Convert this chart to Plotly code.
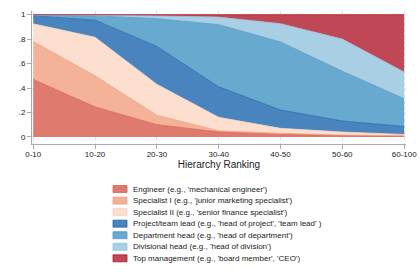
import plotly.graph_objects as go

categories = ["0-10", "10-20", "20-30", "30-40", "40-50", "50-60", "60-100"]
engineer = [0.47, 0.245, 0.10, 0.04, 0.02, 0.01, 0.005]
specialist1 = [0.31, 0.255, 0.077, 0.01, 0.01, 0.005, 0.005]
specialist2 = [0.145, 0.315, 0.253, 0.11, 0.04, 0.025, 0.01]
project_lead = [0.065, 0.14, 0.31, 0.25, 0.15, 0.09, 0.065]
department = [0.006, 0.035, 0.227, 0.508, 0.557, 0.407, 0.228]
divisional = [0.004, 0.008, 0.023, 0.062, 0.149, 0.263, 0.217]
top_mgmt = [0.0, 0.002, 0.01, 0.02, 0.074, 0.20, 0.47]

names = [
    "Engineer (e.g., 'mechanical engineer')",
    "Specialist I (e.g., 'junior marketing specialist')",
    "Specialist II (e.g., 'senior finance specialist')",
    "Project/team lead (e.g., 'head of project', 'team lead' )",
    "Department head (e.g., 'head of department')",
    "Divisional head (e.g., 'head of division')",
    "Top management (e.g., 'board member', 'CEO')",
]
series = [engineer, specialist1, specialist2, project_lead, department, divisional, top_mgmt]
fills = ["rgb(223,123,110)", "rgb(244,178,152)", "rgb(253,223,207)",
         "rgb(74,132,191)", "rgb(104,169,207)", "rgb(168,207,228)", "rgb(192,71,86)"]
lines = ["rgb(214,96,77)", "rgb(240,160,130)", "rgb(250,210,190)",
         "rgb(33,102,172)", "rgb(80,150,200)", "rgb(150,195,222)", "rgb(178,24,43)"]

W, H = 420, 280
L, R, T, B = 32, 14, 11, 136
PW, PH = W - L - R, H - T - B

def px_x(px):
    return (px - L) / PW

def px_y(py):
    return (H - B - py) / PH

fig = go.Figure()
for nm, vals, fc, lc in zip(names, series, fills, lines):
    fig.add_trace(go.Scatter(
        x=categories, y=vals, name=nm, stackgroup="one", mode="lines",
        line=dict(color=lc, width=0.8), fillcolor=fc, hoverinfo="skip",
    ))

shapes = []
annotations = []
for i, (nm, fc, lc) in enumerate(zip(names, fills, lines)):
    cy = 189 + 11.55 * i
    shapes.append(dict(
        type="rect", xref="paper", yref="paper",
        x0=px_x(113), x1=px_x(127), y0=px_y(cy + 3.5), y1=px_y(cy - 3.5),
        fillcolor=fc, line=dict(color=lc, width=0.8),
    ))
    annotations.append(dict(
        xref="paper", yref="paper", x=px_x(131), y=px_y(cy),
        xanchor="left", yanchor="middle", text=nm, showarrow=False,
        font=dict(size=8, color="#222"),
    ))

fig.update_layout(
    width=W, height=H,
    margin=dict(l=L, r=R, t=T, b=B, autoexpand=False),
    paper_bgcolor="white", plot_bgcolor="white",
    font=dict(family="Liberation Sans, Arial, sans-serif", size=8, color="#222"),
    showlegend=False,
    shapes=shapes,
    annotations=annotations,
    xaxis=dict(
        type="category", range=[-0.02, 6.03], automargin=False,
        showline=True, linecolor="#aaa", linewidth=1,
        ticks="outside", ticklen=4, tickcolor="#aaa",
        ticklabelstandoff=-2,
        showgrid=True, gridcolor="#ddd", griddash="dot", gridwidth=1,
        tickfont=dict(size=8),
        title=dict(text="Hierarchy Ranking", font=dict(size=10), standoff=2),
        zeroline=False,
    ),
    yaxis=dict(
        range=[-0.058, 1.03], automargin=False,
        tickvals=[0, 0.2, 0.4, 0.6, 0.8, 1],
        ticktext=["0", ".2", ".4", ".6", ".8", "1"],
        showline=True, linecolor="#aaa", linewidth=1,
        ticks="outside", ticklen=4, tickcolor="#aaa",
        showgrid=True, gridcolor="#e6e6e6", griddash="dot", gridwidth=1,
        zeroline=False, tickfont=dict(size=8),
    ),
)

fig.write_html(
    "out.html",
    config={"displayModeBar": False},
    post_script="document.body.style.margin='0';document.body.style.overflow='hidden';",
)
